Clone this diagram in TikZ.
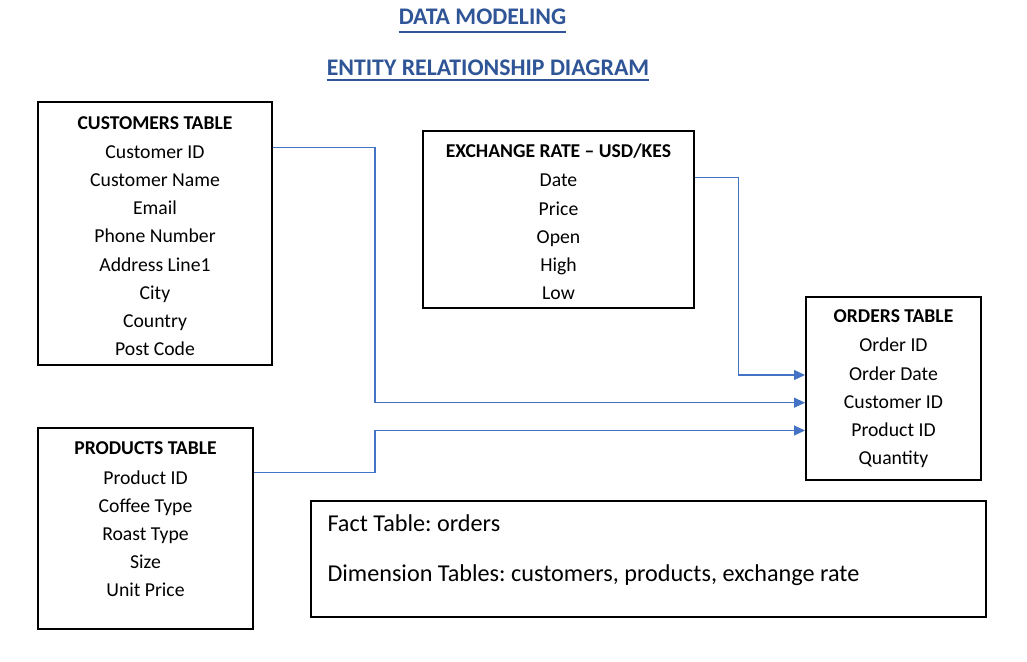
\documentclass[tikz,border=0pt]{standalone}
\usepackage{fontspec}
\setmainfont{Carlito}
\usetikzlibrary{arrows.meta}
\definecolor{titleblue}{HTML}{2F5597}
\definecolor{linkblue}{HTML}{4472C4}
\frenchspacing
\begin{document}
\begin{tikzpicture}[x=1pt,y=-1pt,
  tbox/.style={draw=black,line width=2pt,inner sep=0pt},
  ttl/.style={anchor=base,font=\fontsize{19.6}{22}\selectfont\bfseries,inner sep=0pt},
  row/.style={anchor=base,font=\fontsize{19.7}{22}\selectfont,inner sep=0pt},
  head/.style={anchor=base,font=\fontsize{23.8}{28}\selectfont\bfseries,text=titleblue,inner sep=0pt},
  notetxt/.style={anchor=base west,font=\fontsize{24.2}{28}\selectfont,inner sep=0pt},
  uline/.style={draw=titleblue,line width=2pt},
  conn/.style={draw=linkblue,line width=1.2pt},
  arr/.style={conn,-{Triangle[length=11pt,width=10pt]}},
]
\useasboundingbox (0,0) rectangle (1027,661);

% titles
\node[head] (t1) at (482.5,25) {DATA MODELING};
\draw[uline] ([yshift=-7pt]t1.base west) -- ([yshift=-7pt]t1.base east);
\node[head] (t2) at (488,75.5) {ENTITY RELATIONSHIP DIAGRAM};
\draw[uline] ([yshift=-4pt]t2.base west) -- ([yshift=-4pt]t2.base east);

% customers
\node[tbox,minimum width=233.4pt,minimum height=262.7pt] (cust) at (155,233.7) {};
\node[ttl] (custh) at (155,129.3) {CUSTOMERS TABLE};
\foreach \t [count=\i from 0] in {Customer ID,Customer Name,Email,Phone Number,Address Line1,City,Country,Post Code}
  \node[row] (cr\i) at (155,158.3+28.2*\i) {\t};

% exchange rate
\node[tbox,minimum width=271.6pt,minimum height=177.6pt] (exch) at (558.5,219.5) {};
\node[ttl] (exchh) at (558.5,157) {EXCHANGE RATE – USD/KES};
\foreach \t [count=\i from 0] in {Date,Price,Open,High,Low}
  \node[row] (er\i) at (558.5,186.7+28.3*\i) {\t};

% orders
\node[tbox,minimum width=175pt,minimum height=183.3pt] (ord) at (893.5,388.3) {};
\node[ttl] (ordh) at (893.5,322.7) {ORDERS TABLE};
\foreach \t [count=\i from 0] in {Order ID,Order Date,Customer ID,Product ID,Quantity}
  \node[row] (or\i) at (893.5,351.7+28.3*\i) {\t};

% products
\node[tbox,minimum width=215.6pt,minimum height=200.7pt] (prod) at (145.5,528.7) {};
\node[ttl] (prodh) at (145.5,454.3) {PRODUCTS TABLE};
\foreach \t [count=\i from 0] in {Product ID,Coffee Type,Roast Type,Size,Unit Price}
  \node[row] (pr\i) at (145.5,484.3+28.1*\i) {\t};

% note
\node[tbox,minimum width=675pt,minimum height=115.7pt] (note) at (648.5,558.8) {};
\node[notetxt] (n1) at (327.3,531.7) {Fact Table: orders};
\node[notetxt] (n2) at (327.3,581.7) {Dimension Tables: customers, products, exchange rate};

% connectors
\draw[arr] (cust.east |- 0,147.7) -- (375,147.7) -- (375,402.7) -- (ord.west |- 0,402.7);
\draw[arr] (exch.east |- 0,177.3) -- (738.3,177.3) -- (738.3,375) -- (ord.west |- 0,375);
\draw[arr] (prod.east |- 0,472.7) -- (375,472.7) -- (375,430.5) -- (ord.west |- 0,430.5);
\end{tikzpicture}
\end{document}
